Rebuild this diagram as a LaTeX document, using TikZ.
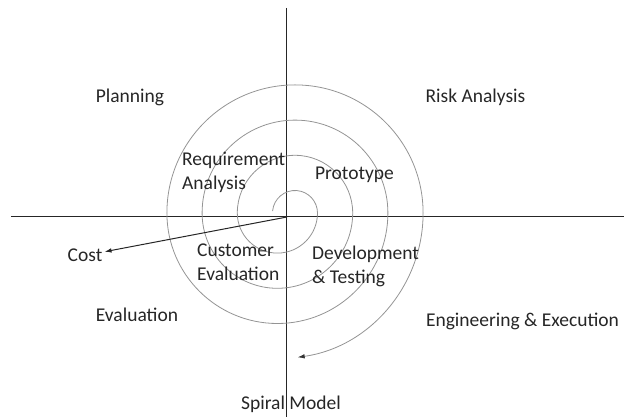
\documentclass[tikz,border=0pt]{standalone}
\usepackage{fontspec}
\setmainfont{Carlito}
\usetikzlibrary{arrows.meta}

\tikzset{
	lbl/.style={inner sep=0pt, text=black!85, font=\fontsize{19.5}{24}\selectfont},
	axis/.style={line width=1pt, black!85},
	spiral/.style={line width=0.8pt, black!42},
}

\begin{document}
\begin{tikzpicture}[x=1pt, y=1pt, >={Latex[length=7pt,width=4.5pt]}]
		\useasboundingbox (-287,-200) rectangle (337,217);
		
		% Axes
		\coordinate (o) at (0,0);
		\coordinate (w) at (-276,0);
		\coordinate (e) at (337,0);
		\coordinate (n) at (0,209);
		\coordinate (s) at (0,-200);
		\draw[axis] (w) -- (e);
		\draw[axis] (n) -- (s);
		
		% Spiral: upper halves round (8,4), lower halves round (-9.6,4)
		\draw[spiral, -{Latex[length=7pt,width=4.5pt,color=black!80]}] (8,4) ++(175:22.5)
			arc[start angle=175, end angle=0, radius=22.5]
			arc[start angle=0, end angle=-180, radius=40.1]
			arc[start angle=180, end angle=0, radius=57.7]
			arc[start angle=0, end angle=-180, radius=75.3]
			arc[start angle=180, end angle=0, radius=92.9]
			arc[start angle=0, end angle=-180, radius=110.5]
			arc[start angle=180, end angle=0, radius=128.1]
			arc[start angle=0, end angle=-82, radius=145.7];
		
		% Quadrant labels
		\node[lbl, anchor=base] (plan) at (-157,114) {Planning};
		\node[lbl, anchor=base] (risk) at (188.5,114) {Risk Analysis};
		\node[lbl, anchor=base] (eval) at (-150,-105) {Evaluation};
		\node[lbl, anchor=base] (eng) at (235.5,-110) {Engineering \& Execution};
		
		% Inner labels
		\node[lbl, anchor=west, align=left] (req) at (-105,44.5) {Requirement\\Analysis};
		\node[lbl, anchor=base] (proto) at (67.5,37.7) {Prototype};
		\node[lbl, anchor=west, align=left] (cust) at (-90,-45) {Customer\\Evaluation};
		\node[lbl, anchor=west, align=left] (dev) at (25,-49) {Development\\\& Testing};
		
		% Cost
		\node[lbl, anchor=base, inner sep=2pt] (cost) at (-202,-44.7) {Cost};
		\draw[axis, ->] (o) -- (cost);
		
		% Title
		\node[lbl, anchor=base] (title) at (4,-193) {Spiral Model};
		
	\end{tikzpicture}
\end{document}
